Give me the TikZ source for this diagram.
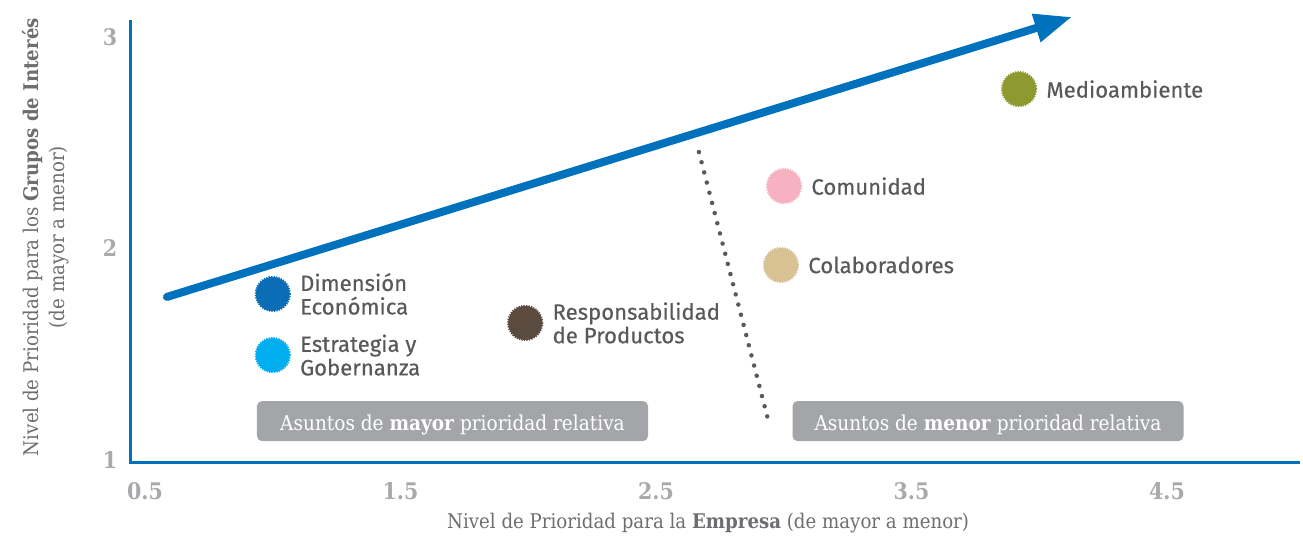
\documentclass[tikz,border=0pt]{standalone}
\usepackage{fontspec}
\setmainfont{DejaVu Serif}[FakeStretch=0.9]
\newfontfamily\bubblefont{Fira Sans}[FakeBold=0.4]
\usetikzlibrary{arrows.meta}
\definecolor{axisblue}{HTML}{0071BC}
\definecolor{txtgray}{HTML}{58595B}
\definecolor{titlegray}{HTML}{6D6E71}
\definecolor{tickgray}{HTML}{A7A9AC}
\definecolor{boxgray}{HTML}{A3A5A8}
\definecolor{econblue}{HTML}{0A6DB5}
\definecolor{govblue}{HTML}{00AEEF}
\definecolor{prodbrown}{HTML}{5B4A3E}
\definecolor{commpink}{HTML}{F7B2C2}
\definecolor{staffsand}{HTML}{D8C193}
\definecolor{envgreen}{HTML}{8E9A2F}
\begin{document}
\begin{tikzpicture}[x=5.11cm,y=4.23cm,
  bubble/.style={circle,fill=#1,draw=#1,line width=1.2pt,dash pattern=on 0.7pt off 0.7pt,minimum size=0.68cm,inner sep=0pt},
  tag/.style={font=\bubblefont\fontsize{12.6}{13.4}\selectfont,text=txtgray,align=left,inner sep=0pt,label distance=0.18cm},
  ticklbl/.style={font=\bfseries\fontsize{13}{13}\selectfont,text=tickgray},
  zone/.style={fill=boxgray,rounded corners=0.1cm,minimum width=7.82cm,minimum height=0.8cm,text height=0.42cm,text depth=0.05cm,text=white,font=\fontsize{11.7}{11.7}\selectfont},
  axistitle/.style={text=titlegray,font=\fontsize{11.5}{14.5}\selectfont,align=center}]
   \useasboundingbox (-0.0675,0.636) rectangle (5.0323,3.175);
   % axes
   \draw[axisblue,line width=0.06cm] (0.4452,3.08) -- (0.4452,0.9905) -- (5.021,0.9905);
   \foreach \v in {1,2,3} \node[ticklbl] (ty\v) at (0.363,\v) {\v};
   \foreach \v in {0.5,1.5,2.5,3.5,4.5} \node[ticklbl] at (\v,0.853) {\v};
   \node[axistitle] (xtitle) at (2.704,0.700) {Nivel de Prioridad para la \textbf{Empresa} (de mayor a menor)};
   \node[axistitle,rotate=90] (ytitle) at (0.1106,2.054) {Nivel de Prioridad para los \textbf{Grupos de Interés}\\(de mayor a menor)};
   % trend arrow
   \coordinate (trendA) at (0.586,1.771);
   \coordinate (trendB) at (4.128,3.095);
   \draw[axisblue,line width=0.16cm,line cap=round,-{Triangle[length=0.75cm,width=0.55cm]}] (trendA) -- (trendB);
   % divider
   \coordinate (divA) at (2.668,2.456);
   \coordinate (divB) at (2.942,1.175);
   \draw[txtgray,line width=0.09cm,line cap=round,dash pattern=on 0pt off 0.21cm] (divA) -- (divB);
   % issues
   \node[bubble=econblue,label={[tag]right:{Dimensión\\Económica}}] (econ) at (1.0,1.785) {};
   \node[bubble=govblue,label={[tag]right:{Estrategia y\\Gobernanza}}] (gov) at (1.0,1.496) {};
   \node[bubble=prodbrown,label={[tag]right:{Responsabilidad\\de Productos}}] (prod) at (1.988,1.648) {};
   \node[bubble=commpink,label={[tag]right:Comunidad}] (comm) at (3.001,2.295) {};
   \node[bubble=staffsand,label={[tag]right:Colaboradores}] (staff) at (2.989,1.922) {};
   \node[bubble=envgreen,label={[tag]right:Medioambiente}] (env) at (3.921,2.754) {};
   % zones
   \node[zone] (major) at (1.7035,1.184) {Asuntos de \textbf{mayor} prioridad relativa};
   \node[zone] (minor) at (3.7994,1.184) {Asuntos de \textbf{menor} prioridad relativa};
\end{tikzpicture}
\end{document}
